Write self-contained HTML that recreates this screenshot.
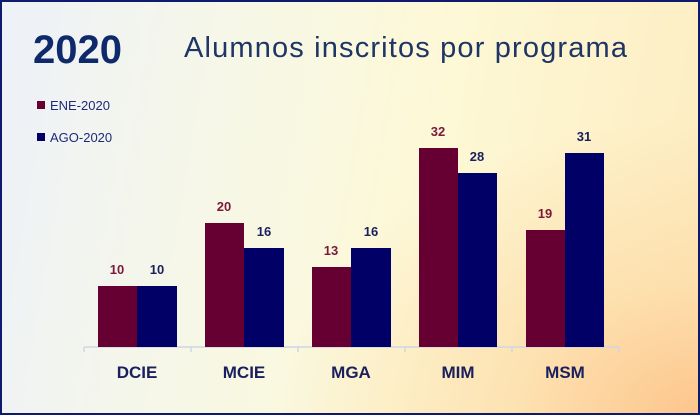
<!DOCTYPE html>
<html><head><meta charset="utf-8"><style>
html,body{margin:0;padding:0}
body{width:700px;height:415px;overflow:hidden;font-family:"Liberation Sans",sans-serif}
.box{position:absolute;left:0;top:0;width:696px;height:411px;border:2px solid #0d1a6e;
background:radial-gradient(ellipse 420px 300px at 700px 415px,#fdc58c 0%,rgba(253,215,160,0.6) 45%,rgba(253,240,200,0) 100%),
linear-gradient(100deg,#edf1f8 0%,#f6f7e8 30%,#fdf8d6 60%,#fdecc0 100%);}
</style></head><body>
<div class="box"></div>
<svg width="700" height="415" style="position:absolute;left:0;top:0" font-family="Liberation Sans, sans-serif">
<text x="33" y="63" font-size="40" font-weight="bold" fill="#0f2a6a">2020</text>
<text x="184" y="57" font-size="29" fill="#1e3566" textLength="443" lengthAdjust="spacing">Alumnos inscritos por programa</text>
<rect x="37" y="101" width="8" height="8" fill="#660033"/>
<text x="50" y="110" font-size="13" fill="#1e2a78">ENE-2020</text>
<rect x="37" y="133" width="8" height="8" fill="#000066"/>
<text x="50" y="142" font-size="13" fill="#1e2a78">AGO-2020</text>
<g stroke="#cfd6e4" stroke-width="1.5" fill="none">
<line x1="84" y1="347" x2="619" y2="347"/>
<line x1="84" y1="347" x2="84" y2="352"/><line x1="191" y1="347" x2="191" y2="352"/>
<line x1="298" y1="347" x2="298" y2="352"/><line x1="405" y1="347" x2="405" y2="352"/>
<line x1="512" y1="347" x2="512" y2="352"/><line x1="619" y1="347" x2="619" y2="352"/>
</g>
<g fill="#660033">
<rect x="98" y="286" width="39" height="61"/>
<rect x="205" y="223" width="39" height="124"/>
<rect x="312" y="267" width="39" height="80"/>
<rect x="419" y="148" width="39" height="199"/>
<rect x="526" y="230" width="39" height="117"/>
</g>
<g fill="#000066">
<rect x="137" y="286" width="40" height="61"/>
<rect x="244" y="248" width="40" height="99"/>
<rect x="351" y="248" width="40" height="99"/>
<rect x="458" y="173" width="39" height="174"/>
<rect x="565" y="153" width="39" height="194"/>
</g>
<g font-size="13" font-weight="bold" text-anchor="middle" fill="#7a1a3a">
<text x="117" y="274">10</text><text x="224" y="211">20</text><text x="331" y="255">13</text>
<text x="438" y="136">32</text><text x="545" y="218">19</text>
</g>
<g font-size="13" font-weight="bold" text-anchor="middle" fill="#1a1f5e">
<text x="157" y="274">10</text><text x="264" y="236">16</text><text x="371" y="236">16</text>
<text x="477" y="161">28</text><text x="584" y="141">31</text>
</g>
<g font-size="17" font-weight="bold" text-anchor="middle" fill="#1a1f5e">
<text x="137" y="378">DCIE</text><text x="244" y="378">MCIE</text><text x="351" y="378">MGA</text>
<text x="458" y="378">MIM</text><text x="565" y="378">MSM</text>
</g>
</svg>
</body></html>
